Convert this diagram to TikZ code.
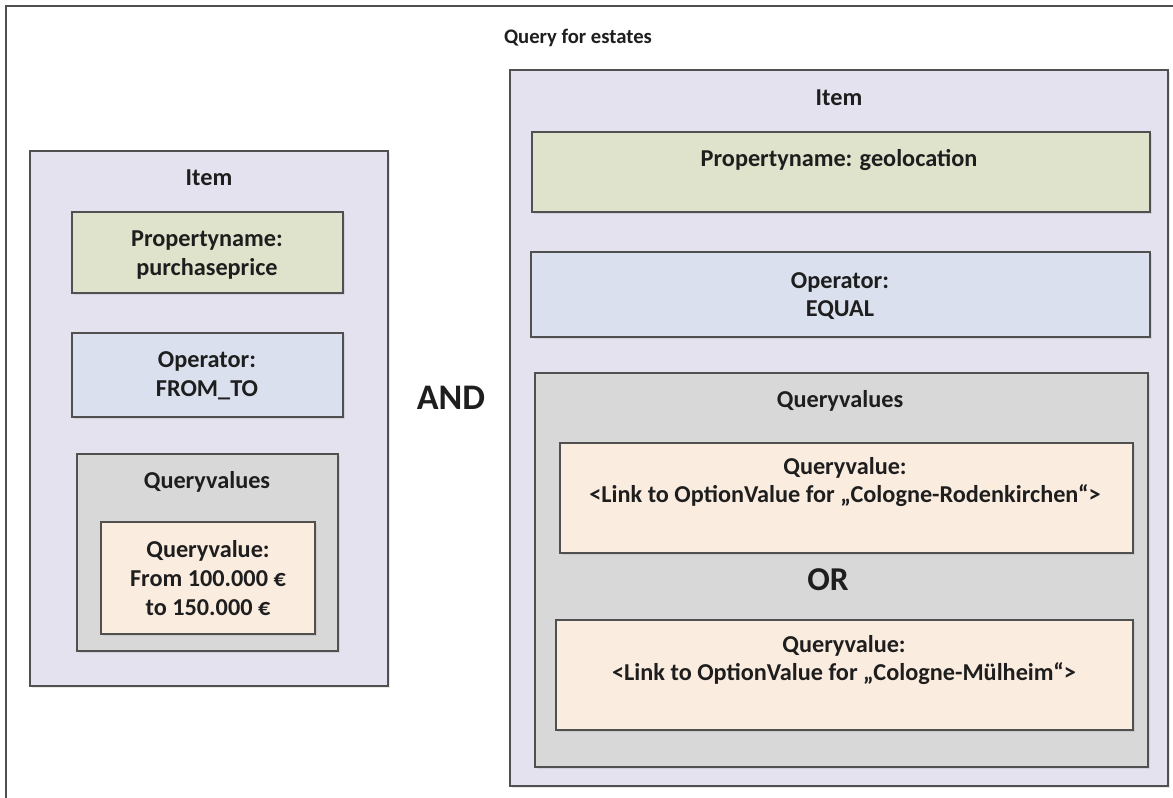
\documentclass[tikz,border=0pt]{standalone}
\usepackage{fontspec}
\setmainfont{Carlito}
\usetikzlibrary{fit,shadows}
\definecolor{itemfill}{HTML}{E5E2EF}
\definecolor{propfill}{HTML}{DFE3CB}
\definecolor{opfill}{HTML}{DAE0EE}
\definecolor{qvsfill}{HTML}{D8D8D8}
\definecolor{qvfill}{HTML}{FBECE0}
\definecolor{edge}{HTML}{505050}
\definecolor{ink}{HTML}{1E1E1E}
\tikzset{
  box/.style={draw=edge, line width=1.5pt, inner sep=0pt, rectangle,
    drop shadow={opacity=0.18, shadow xshift=1.5pt, shadow yshift=-1.5pt}},
  itembox/.style={box, fill=itemfill},
  propbox/.style={box, fill=propfill},
  opbox/.style={box, fill=opfill},
  qvsbox/.style={box, fill=qvsfill},
  qvbox/.style={box, fill=qvfill},
  txt/.style={font=\bfseries\fontsize{18.2}{21.5}\selectfont, align=center, text=ink, inner sep=0pt},
  title/.style={font=\bfseries\fontsize{15.5}{18}\selectfont, text=ink, inner sep=0pt},
  bigand/.style={font=\bfseries\fontsize{27}{32}\selectfont, text=ink, inner sep=0pt},
  bigor/.style={font=\bfseries\fontsize{25}{30}\selectfont, text=ink, inner sep=0pt},
}
\begin{document}
\begin{tikzpicture}[x=0.75pt,y=-0.75pt]
\useasboundingbox (0,0) rectangle (1173,797);
\fill[white] (0,0) rectangle (1173,797);
% outer frame
\coordinate (fbl) at (6,800);
\coordinate (ftl) at (6,6);
\coordinate (ftr) at (1176,6);
\draw[edge, line width=1.5pt] (fbl) -- (ftl) -- (ftr);
\node[title] (ttl) at (578,38) {Query for estates};

% left item
\node[itembox, fit={(30,151)(388,686)}] (itemL) {};
\node[txt] (itemLt) at (209,178) {Item};
\node[propbox, fit={(72,212)(343,293)}] (propL) {};
\node[txt] (propLt) at (207,255) {Propertyname:\\purchaseprice};
\node[opbox, fit={(72,333)(343,417)}] (opL) {};
\node[txt] (opLt) at (207,376) {Operator:\\FROM\_TO};
\node[qvsbox, fit={(77,454)(338,651)}] (qvsL) {};
\node[txt] (qvsLt) at (207,482) {Queryvalues};
\node[qvbox, fit={(101,522)(315,634)}] (qvL) {};
\node[txt] (qvLt) at (208,578) {Queryvalue:\\From 100.000 €\\to 150.000 €};

\node[bigand] (and) at (451,398) {AND};

% right item
\node[itembox, fit={(510,70)(1168,786)}] (itemR) {};
\node[txt] (itemRt) at (839,98) {Item};
\node[propbox, fit={(532,132)(1150,212)}] (propR) {};
\node[txt] (propRt) at (839,160) {Propertyname: geolocation};
\node[opbox, fit={(531,252)(1150,337)}] (opR) {};
\node[txt] (opRt) at (840,296) {Operator:\\EQUAL};
\node[qvsbox, fit={(535,373)(1148,767)}] (qvsR) {};
\node[txt] (qvsRt) at (840,401) {Queryvalues};
\node[qvbox, fit={(560,443)(1133,553)}] (qvR1) {};
\node[txt] (qvR1t) at (845,482) {Queryvalue:\\<Link to OptionValue for „Cologne-Rodenkirchen“>};
\node[bigor] (or) at (828,580) {OR};
\node[qvbox, fit={(556,620)(1133,730)}] (qvR2) {};
\node[txt] (qvR2t) at (844,660) {Queryvalue:\\<Link to OptionValue for „Cologne-Mülheim“>};
\end{tikzpicture}
\end{document}
